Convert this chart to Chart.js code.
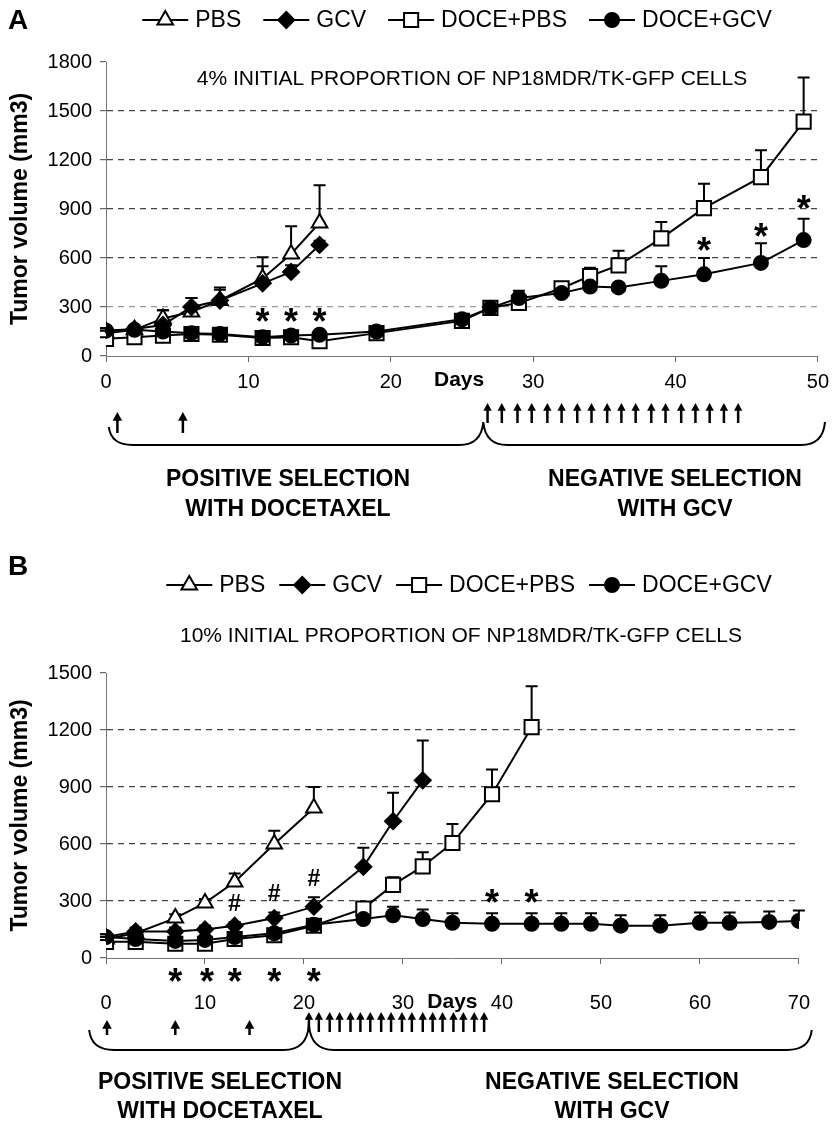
<!DOCTYPE html>
<html>
<head>
<meta charset="utf-8">
<script src="https://cdn.jsdelivr.net/npm/chart.js@4.4.0/dist/chart.umd.min.js"></script>
<style>
  body { margin: 0; background: #fff; }
  #wrap { position: relative; width: 837px; height: 1128px; }
  canvas { position: absolute; left: 0; }
</style>
</head>
<body>
<div id="wrap">
  <canvas id="chartA" width="837" height="545" style="top:0;width:837px;height:545px"></canvas>
  <canvas id="chartB" width="837" height="583" style="top:545px;width:837px;height:583px"></canvas>
</div>
<script>
const seriesNames = ['PBS', 'GCV', 'DOCE+PBS', 'DOCE+GCV'];

// Panel A: 4% initial proportion
const daysA = [0, 2, 4, 6, 8, 11, 13, 15, 19, 25, 27, 29, 32, 34, 36, 39, 42, 46, 49];
const pbsA = [140, 160, 230, 270, 340, 475, 625, 815];
const pbsErrA = [15, 15, 50, 85, 80, 130, 170, 230];
const gcvA = [155, 165, 190, 300, 340, 445, 515, 680];
const gcvErrA = [15, 15, 90, 55, 65, 105, 40, 25];
const docePbsA = [105, 115, 125, 135, 130, 110, 115, 90, 140, 215, 295, 325, 415, 490, 555, 720, 905, 1095, 1435];
const docePbsErrA = [10, 10, 10, 10, 10, 10, 10, 10, 15, 20, 20, 25, 25, 50, 90, 100, 150, 165, 270];
const doceGcvA = [155, 160, 150, 140, 135, 115, 125, 130, 150, 225, 295, 355, 385, 425, 420, 460, 500, 570, 710];
const doceGcvErrA = [15, 15, 15, 10, 10, 10, 10, 10, 15, 20, 20, 45, 20, 20, 20, 90, 100, 120, 130];
const yTicksA = [0, 1800, 300];
const xTicksA = [0, 50, 10];

// Panel B: 10% initial proportion
const daysB = [0, 3, 7, 10, 13, 17, 21, 26, 29, 32, 35, 39, 43, 46, 49, 52, 56, 60, 63, 67, 70];
const pbsB = [100, 130, 210, 290, 400, 600, 790];
const pbsErrB = [10, 15, 20, 20, 45, 70, 110];
const gcvB = [110, 140, 140, 150, 170, 210, 270, 480, 720, 935];
const gcvErrB = [15, 20, 20, 20, 20, 30, 50, 100, 150, 210];
const docePbsB = [85, 85, 75, 75, 100, 120, 170, 260, 385, 482, 605, 862, 1215];
const docePbsErrB = [10, 10, 10, 10, 10, 15, 20, 30, 40, 75, 100, 130, 215];
const doceGcvB = [110, 100, 90, 95, 110, 130, 175, 205, 225, 205, 185, 180, 180, 180, 180, 170, 170, 185, 185, 190, 195];
const doceGcvErrB = [15, 10, 10, 10, 10, 15, 20, 35, 45, 50, 50, 55, 55, 55, 55, 55, 55, 55, 55, 55, 55];
const yTicksB = [0, 1500, 300];
const xTicksB = [0, 70, 10];

// significance marks and treatment schedule (days)
const starsA = [[11, 265], [13, 265], [15, 265], [42, 700], [46, 785], [49, 955]];
const doceDosesA = [0.8, 5.4];
const gcvDosesA = [26.8, 27.8, 28.9, 29.9, 31.0, 32.0, 33.1, 34.1, 35.2, 36.2, 37.2, 38.3, 39.3, 40.4, 41.4, 42.4, 43.4, 44.4];
const starsB = [[39, 335], [43, 335]];
const starsBelowB = [7, 10.2, 13, 17, 21];
const hashesB = [[13, 290], [17, 340], [21, 420]];
const doceDosesB = [0.1, 7, 14.5];
const gcvDosesB = [20.5, 21.5, 22.6, 23.6, 24.7, 25.7, 26.7, 27.8, 28.8, 29.9, 30.9, 32.0, 33.0, 34.0, 35.1, 36.1, 37.2, 38.2];

const FONT = "'Liberation Sans', Arial, sans-serif";
Chart.defaults.font.family = FONT;
Chart.defaults.color = '#000';
Chart.defaults.animation = false;

const markers = [
    { style: 'triangle', r: 9, fill: '#fff' },
    { style: 'rectRot', r: 8, fill: '#000' },
    { style: 'rect', r: 10, fill: '#fff' },
    { style: 'circle', r: 7, fill: '#000' }
];

function pts(days, vals) {
    return vals.map((v, i) => ({ x: days[i], y: v }));
}

function makeDataset(i, days, vals, errs) {
    const m = markers[i];
    return {
        label: seriesNames[i],
        data: pts(days, vals),
        errUp: errs,
        borderColor: '#000',
        borderWidth: 2,
        tension: 0,
        pointStyle: m.style,
        pointRadius: m.r,
        pointHoverRadius: m.r,
        pointBackgroundColor: m.fill,
        pointBorderColor: '#000',
        pointBorderWidth: 2
    };
}

// one-sided (upper) error bars
const errorBars = {
    id: 'errorBars',
    beforeDatasetsDraw(chart) {
        const { ctx } = chart;
        const y = chart.scales.y;
        ctx.save();
        ctx.strokeStyle = '#000';
        ctx.lineWidth = 2;
        chart.data.datasets.forEach((d, i) => {
            chart.getDatasetMeta(i).data.forEach((pt, j) => {
                const top = y.getPixelForValue(d.data[j].y + d.errUp[j]);
                ctx.beginPath();
                ctx.moveTo(pt.x, pt.y);
                ctx.lineTo(pt.x, top);
                ctx.moveTo(pt.x - 6, top);
                ctx.lineTo(pt.x + 6, top);
                ctx.stroke();
            });
        });
        ctx.restore();
    }
};

function star(ctx, cx, cy) {
    ctx.font = 'bold 36px ' + FONT;
    ctx.textAlign = 'center';
    ctx.textBaseline = 'alphabetic';
    ctx.fillText('*', cx, cy + 21);
}

function hash(ctx, cx, cy) {
    ctx.font = 'bold 23px ' + FONT;
    ctx.textAlign = 'center';
    ctx.textBaseline = 'alphabetic';
    ctx.fillText('#', cx, cy + 8);
}

function arrow(ctx, x, top, bot, head) {
    ctx.lineWidth = 2.5;
    ctx.beginPath();
    ctx.moveTo(x, bot);
    ctx.lineTo(x, top + head);
    ctx.stroke();
    ctx.beginPath();
    ctx.moveTo(x, top);
    ctx.lineTo(x - head * 0.6, top + head * 1.1);
    ctx.lineTo(x + head * 0.6, top + head * 1.1);
    ctx.closePath();
    ctx.fill();
}

function brace(ctx, x0, y0, xp, yp, x1, y1, yl, r) {
    ctx.lineWidth = 2;
    ctx.beginPath();
    ctx.moveTo(x0, y0);
    ctx.quadraticCurveTo(x0 + 2, yl, x0 + r, yl);
    ctx.lineTo(xp - r, yl);
    ctx.quadraticCurveTo(xp - 2, yl, xp, yp);
    ctx.quadraticCurveTo(xp + 2, yl, xp + r, yl);
    ctx.lineTo(x1 - r, yl);
    ctx.quadraticCurveTo(x1 - 2, yl, x1, y1);
    ctx.stroke();
}

function drawLegend(ctx, cx, cy, gap) {
    ctx.font = '23px ' + FONT;
    const seg = 46, pad = 7;
    const widths = seriesNames.map(n => ctx.measureText(n).width);
    const total = widths.reduce((s, w) => s + seg + pad + w, 0) + gap * (seriesNames.length - 1);
    let x = cx - total / 2;
    seriesNames.forEach((n, i) => {
        const m = markers[i];
        ctx.strokeStyle = '#000';
        ctx.lineWidth = 2;
        ctx.beginPath();
        ctx.moveTo(x, cy);
        ctx.lineTo(x + seg, cy);
        ctx.stroke();
        ctx.fillStyle = m.fill;
        Chart.helpers.drawPoint(ctx, { pointStyle: m.style, radius: m.r, rotation: 0, borderWidth: 2 }, x + seg / 2, cy);
        ctx.fillStyle = '#000';
        ctx.textAlign = 'left';
        ctx.textBaseline = 'middle';
        ctx.fillText(n, x + seg + pad, cy + 1);
        x += seg + pad + widths[i] + gap;
    });
}

function overlay(o) {
    return {
        id: 'overlay',
        afterDraw(chart) {
            const { ctx, chartArea: a, scales: { x, y } } = chart;
            const b = a.bottom;
            const px = d => x.getPixelForValue(d);
            ctx.save();
            ctx.fillStyle = '#000';
            ctx.strokeStyle = '#000';

            ctx.font = 'bold 28px ' + FONT;
            ctx.textAlign = 'left';
            ctx.textBaseline = 'middle';
            ctx.fillText(o.letter, 8, o.letterY);

            drawLegend(ctx, o.legendX, o.legendY, o.legendGap);

            ctx.fillStyle = '#000';
            ctx.font = '21px ' + FONT;
            ctx.textAlign = 'center';
            ctx.textBaseline = 'middle';
            ctx.fillText(o.subtitle, o.subX, o.subY);

            ctx.font = 'bold 21px ' + FONT;
            ctx.fillText('Days', px(o.daysAt), b + o.daysDy);

            o.stars.forEach(s => star(ctx, px(s[0]), y.getPixelForValue(s[1])));
            (o.starsBelow || []).forEach(d => star(ctx, px(d), b + 15));
            (o.hashes || []).forEach(s => hash(ctx, px(s[0]), y.getPixelForValue(s[1])));

            o.doceDoses.forEach(d => arrow(ctx, px(d), b + o.doceArrow[0], b + o.doceArrow[1], 8));
            o.gcvDoses.forEach(d => arrow(ctx, px(d), b + o.gcvArrow[0], b + o.gcvArrow[1], 7));

            const br = o.brace;
            brace(ctx, px(br.x0), b + br.yEnd0, px(br.xp), b + br.yPeak, px(br.x1), b + br.yEnd1, b + br.yLine, br.r);

            ctx.font = 'bold 23px ' + FONT;
            ctx.textAlign = 'center';
            ctx.textBaseline = 'middle';
            ctx.fillText('POSITIVE SELECTION', o.posX, b + o.textDy[0]);
            ctx.fillText('WITH DOCETAXEL', o.posX, b + o.textDy[1]);
            ctx.fillText('NEGATIVE SELECTION', o.negX, b + o.textDy[0]);
            ctx.fillText('WITH GCV', o.negX, b + o.textDy[1]);
            ctx.restore();
        }
    };
}

function makeChart(id, datasets, yT, xT, layout, xPad, xHeight, lightFirst, ov) {
    return new Chart(document.getElementById(id), {
        type: 'line',
        data: { datasets },
        options: {
            responsive: false,
            animation: false,
            layout: { padding: layout },
            plugins: { legend: { display: false }, tooltip: { enabled: false } },
            scales: {
                x: {
                    type: 'linear',
                    min: xT[0], max: xT[1],
                    ticks: { stepSize: xT[2], font: { size: 20 }, color: '#000', padding: xPad, maxRotation: 0, callback: v => String(v) },
                    grid: { drawOnChartArea: false, tickLength: 6, tickColor: '#666', tickWidth: 1 },
                    border: { color: '#777', width: 1 },
                    afterFit(s) { s.height = xHeight; }
                },
                y: {
                    min: yT[0], max: yT[1],
                    ticks: { stepSize: yT[2], font: { size: 20 }, color: '#000', padding: 8, callback: v => String(v) },
                    grid: {
                        color: c => (c.tick.value === yT[0] || c.tick.value === yT[1]) ? 'rgba(0,0,0,0)' :
                            (lightFirst && c.tick.value === yT[2] ? '#999' : '#444'),
                        lineWidth: 1.2,
                        tickLength: 6,
                        tickColor: '#666'
                    },
                    border: { color: '#777', width: 1, dash: [6, 5] },
                    title: { display: true, text: 'Tumor volume (mm3)', font: { size: 23, weight: 'bold' }, padding: { top: 7, bottom: 0 } },
                    afterFit(s) { s.width = 106; }
                }
            }
        },
        plugins: [errorBars, ov]
    });
}

// dataset index 0 is drawn on top, so list DOCE+GCV first
makeChart('chartA', [
    makeDataset(3, daysA, doceGcvA, doceGcvErrA),
    makeDataset(2, daysA, docePbsA, docePbsErrA),
    makeDataset(1, daysA, gcvA, gcvErrA),
    makeDataset(0, daysA, pbsA, pbsErrA)
], yTicksA, xTicksA, { top: 62, right: 9, bottom: 144, left: 0 }, 8, 45, true, overlay({
    letter: 'A', letterY: 21,
    legendX: 457, legendY: 20, legendGap: 22,
    subtitle: '4% INITIAL PROPORTION OF NP18MDR/TK-GFP CELLS', subX: 472, subY: 79,
    daysAt: 24.8, daysDy: 24,
    stars: starsA,
    doceDoses: doceDosesA, doceArrow: [56, 77],
    gcvDoses: gcvDosesA, gcvArrow: [47, 67],
    brace: { x0: 0.2, yEnd0: 71, xp: 26.5, yPeak: 66, x1: 50.5, yEnd1: 66, yLine: 89, r: 24 },
    posX: 288, negX: 675, textDy: [124, 154]
}));

makeChart('chartB', [
    makeDataset(3, daysB, doceGcvB, doceGcvErrB),
    makeDataset(2, daysB, docePbsB, docePbsErrB),
    makeDataset(1, daysB, gcvB, gcvErrB),
    makeDataset(0, daysB, pbsB, pbsErrB)
], yTicksB, xTicksB, { top: 128, right: 13, bottom: 110, left: 0 }, 27, 60, false, overlay({
    letter: 'B', letterY: 22,
    legendX: 469, legendY: 40, legendGap: 14,
    subtitle: '10% INITIAL PROPORTION OF NP18MDR/TK-GFP CELLS', subX: 461, subY: 91,
    daysAt: 35, daysDy: 44,
    stars: starsB, starsBelow: starsBelowB, hashes: hashesB,
    doceDoses: doceDosesB, doceArrow: [62, 77],
    gcvDoses: gcvDosesB, gcvArrow: [54, 74],
    brace: { x0: -1.7, yEnd0: 72, xp: 20.5, yPeak: 67, x1: 71.3, yEnd1: 72, yLine: 92, r: 25 },
    posX: 220, negX: 612, textDy: [125, 154]
}));
</script>
</body>
</html>
